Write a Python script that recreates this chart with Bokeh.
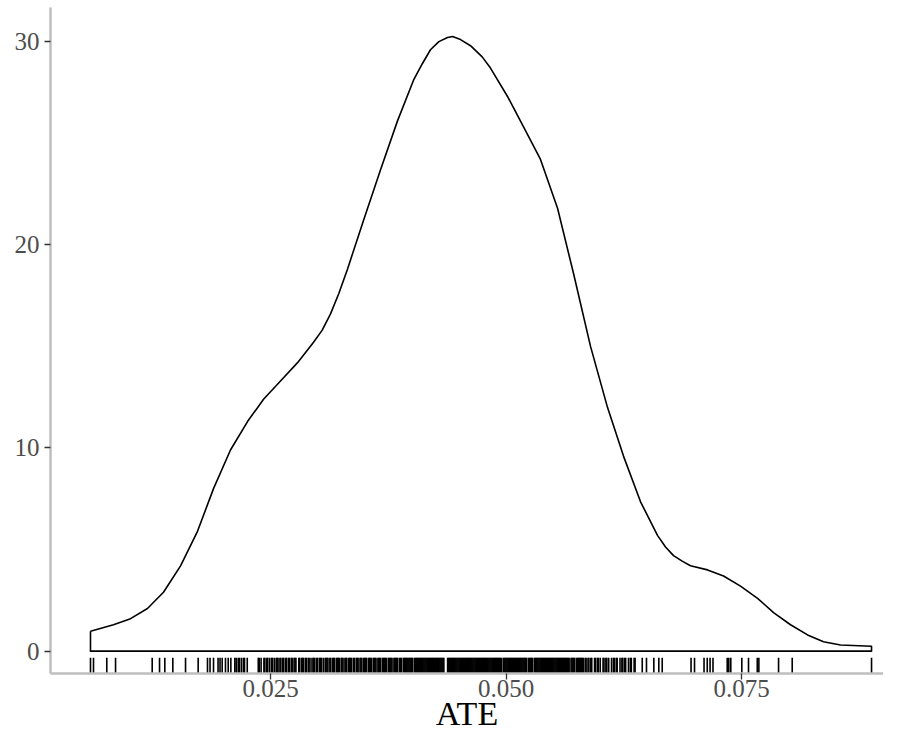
from bokeh.plotting import figure
from bokeh.models import FixedTicker, Range1d, NumeralTickFormatter
from bokeh.embed import file_html
from bokeh.resources import INLINE

# ---- density curve ----
ate_grid = [0.00589, 0.00833, 0.01014, 0.01194, 0.01364, 0.01545, 0.01725, 0.01895,
            0.02075, 0.02256, 0.02426, 0.02606, 0.02787, 0.02957, 0.03049, 0.03137,
            0.03225, 0.03317, 0.03487, 0.03668, 0.03848, 0.04018, 0.04110, 0.04198,
            0.04287, 0.04379, 0.04432, 0.04517, 0.04623, 0.04747, 0.04835, 0.05016,
            0.05186, 0.05366, 0.05547, 0.05716, 0.05897, 0.06077, 0.06247, 0.06428,
            0.06608, 0.06693, 0.06778, 0.06870, 0.06958, 0.07139, 0.07309, 0.07489,
            0.07670, 0.07840, 0.08020, 0.08201, 0.08370, 0.08551, 0.08880]
density = [0.98, 1.3, 1.6, 2.1, 2.9, 4.2, 5.9, 8.0,
           9.9, 11.3, 12.4, 13.3, 14.2, 15.2, 15.8, 16.6,
           17.6, 18.8, 21.2, 23.7, 26.1, 28.1, 28.9, 29.6,
           30.0, 30.2, 30.25, 30.1, 29.8, 29.25, 28.7, 27.3,
           25.8, 24.2, 21.8, 18.6, 15.0, 12.0, 9.6, 7.35,
           5.7, 5.13, 4.7, 4.43, 4.2, 4.0, 3.7, 3.2,
           2.6, 1.9, 1.3, 0.8, 0.46, 0.3, 0.24]

# ---- rug: observed ATE values ----
rug_left = [0.00589, 0.00621, 0.00762, 0.00855, 0.01244, 0.01322, 0.01378, 0.01463,
            0.01598, 0.01732, 0.01831, 0.01858, 0.01895, 0.01943, 0.01964, 0.01987,
            0.02022, 0.02051, 0.02079, 0.02121, 0.02136, 0.02157, 0.02171, 0.02192,
            0.02213, 0.02224, 0.02253]
rug_core = [0.0237, 0.0238, 0.0240, 0.0243, 0.0244, 0.0246, 0.0247, 0.0249, 0.0251, 0.0252,
            0.0254, 0.0256, 0.0257, 0.0258, 0.0260, 0.0261, 0.0263, 0.0264, 0.0266, 0.0267,
            0.0269, 0.0270, 0.0272, 0.0273, 0.0275, 0.0276, 0.0277, 0.0280, 0.0281, 0.0283,
            0.0284, 0.0285, 0.0287, 0.0288, 0.0290, 0.0291, 0.0293, 0.0295, 0.0296, 0.0297,
            0.0299, 0.0300, 0.0302, 0.0303, 0.0304, 0.0306, 0.0308, 0.0309, 0.0310, 0.0311,
            0.0313, 0.0314, 0.0316, 0.0317, 0.0318, 0.0320, 0.0321, 0.0322, 0.0323, 0.0325,
            0.0326, 0.0327, 0.0329, 0.0330, 0.0331, 0.0333, 0.0334, 0.0335, 0.0336, 0.0338,
            0.0339, 0.0341, 0.0342, 0.0343, 0.0345, 0.0346, 0.0347, 0.0349, 0.0350, 0.0351,
            0.0352, 0.0354, 0.0355, 0.0356, 0.0357, 0.0359, 0.0360, 0.0361, 0.0362, 0.0364,
            0.0365, 0.0366, 0.0367, 0.0369, 0.0370, 0.0371, 0.0372, 0.0373, 0.0375, 0.0376,
            0.0377, 0.0378, 0.0379, 0.0381, 0.0382, 0.0383, 0.0384, 0.0385, 0.0387, 0.0388,
            0.0389, 0.0391, 0.0392, 0.0393, 0.0394, 0.0395, 0.0396, 0.0397, 0.0398, 0.0399,
            0.0400, 0.0401, 0.0403, 0.0404, 0.0405, 0.0406, 0.0407, 0.0408, 0.0409, 0.0410,
            0.0411, 0.0412, 0.0413, 0.0414, 0.0415, 0.0416, 0.0417, 0.0418, 0.0419, 0.0420,
            0.0421, 0.0422, 0.0423, 0.0424, 0.0425, 0.0426, 0.0427, 0.0428, 0.0429, 0.0430,
            0.0431, 0.0432, 0.0433, 0.0434, 0.0438, 0.0439, 0.0440, 0.0441, 0.0442, 0.0443,
            0.0444, 0.0445, 0.0446, 0.0447, 0.0448, 0.0449, 0.0450, 0.0451, 0.0452, 0.0453,
            0.0454, 0.0455, 0.0456, 0.0457, 0.0458, 0.0459, 0.0460, 0.0461, 0.0462, 0.0463,
            0.0464, 0.0465, 0.0466, 0.0467, 0.0468, 0.0469, 0.0470, 0.0471, 0.0472, 0.0473,
            0.0474, 0.0475, 0.0476, 0.0477, 0.0478, 0.0479, 0.0480, 0.0481, 0.0482, 0.0483,
            0.0484, 0.0485, 0.0486, 0.0487, 0.0488, 0.0489, 0.0490, 0.0491, 0.0492, 0.0493,
            0.0494, 0.0495, 0.0497, 0.0498, 0.0499, 0.0500, 0.0501, 0.0502, 0.0503, 0.0504,
            0.0505, 0.0506, 0.0507, 0.0508, 0.0509, 0.0510, 0.0511, 0.0512, 0.0513, 0.0514,
            0.0515, 0.0516, 0.0517, 0.0518, 0.0519, 0.0520, 0.0521, 0.0522, 0.0524, 0.0525,
            0.0526, 0.0527, 0.0528, 0.0530, 0.0531, 0.0532, 0.0533, 0.0534, 0.0535, 0.0536,
            0.0537, 0.0538, 0.0539, 0.0540, 0.0541, 0.0542, 0.0543, 0.0544, 0.0545, 0.0546,
            0.0547, 0.0548, 0.0549, 0.0550, 0.0551, 0.0552, 0.0553, 0.0554, 0.0555, 0.0556,
            0.0557, 0.0558, 0.0559, 0.0560, 0.0561, 0.0562, 0.0563, 0.0564, 0.0565, 0.0566,
            0.0567, 0.0569, 0.0570, 0.0571, 0.0572, 0.0573, 0.0575, 0.0576, 0.0577, 0.0578,
            0.0579, 0.0580, 0.0581, 0.0582, 0.0584, 0.0585, 0.0587, 0.0588, 0.0590, 0.0591,
            0.0594, 0.0595, 0.0597, 0.0598, 0.0600, 0.0603, 0.0604, 0.0606, 0.0607, 0.0609,
            0.0612, 0.0614, 0.0615, 0.0617, 0.0618, 0.0621, 0.0623, 0.0624, 0.0626, 0.0627,
            0.0630, 0.0632, 0.0633, 0.0636, 0.0637]
rug_right = [0.06446, 0.06491, 0.06569, 0.06622, 0.06658, 0.06964, 0.07001, 0.07102,
             0.07136, 0.07166, 0.07197, 0.07348, 0.07365, 0.07386, 0.07503, 0.07574,
             0.07667, 0.07684, 0.07893, 0.08038, 0.08880]
rug_ate = rug_left + rug_core + rug_right

x_ticks = [0.025, 0.050, 0.075]
y_ticks = [0, 10, 20, 30]
x_title = "ATE"

FONT = "Liberation Serif"
Y0, Y1 = -1.10, 31.68
RUG_TOP = -0.33

p = figure(width=883, height=734, output_backend="svg", toolbar_location=None,
           x_range=Range1d(0.001645, 0.09007), y_range=Range1d(Y0, Y1),
           min_border_left=50, min_border_right=0, min_border_top=7,
           min_border_bottom=0)
p.xgrid.visible = False
p.ygrid.visible = False
p.outline_line_color = None
p.background_fill_color = "white"
p.border_fill_color = "white"

# density outline (closed like geom_density)
xs = ate_grid + [ate_grid[-1], ate_grid[0], ate_grid[0]]
ys = density + [0, 0, density[0]]
p.line(xs, ys, line_color="black", line_width=1.6, line_join="round")

# rug
p.segment(x0=rug_ate, y0=[Y0] * len(rug_ate), x1=rug_ate,
          y1=[RUG_TOP] * len(rug_ate), line_color="black", line_width=1.6)

for ax in (p.xaxis[0], p.yaxis[0]):
    ax.axis_line_color = "#bebebe"
    ax.axis_line_width = 2.5
    ax.major_tick_line_color = "#333333"
    ax.major_tick_line_width = 1.3
    ax.major_tick_out = 6
    ax.major_tick_in = 0
    ax.minor_tick_line_color = None
    ax.major_label_text_font = FONT
    ax.major_label_text_font_size = "25px"
    ax.major_label_text_color = "#4d4d4d"

p.xaxis.ticker = FixedTicker(ticks=x_ticks)
p.xaxis.formatter = NumeralTickFormatter(format="0.000")
p.xaxis.major_label_standoff = 0
p.xaxis.axis_label = x_title
p.xaxis.axis_label_text_font = FONT
p.xaxis.axis_label_text_font_size = "34px"
p.xaxis.axis_label_text_font_style = "normal"
p.xaxis.axis_label_text_color = "black"
p.xaxis.axis_label_standoff = -5

p.yaxis.ticker = FixedTicker(ticks=y_ticks)
p.yaxis.major_label_standoff = 5

open("out.html", "w").write(file_html(p, INLINE))
